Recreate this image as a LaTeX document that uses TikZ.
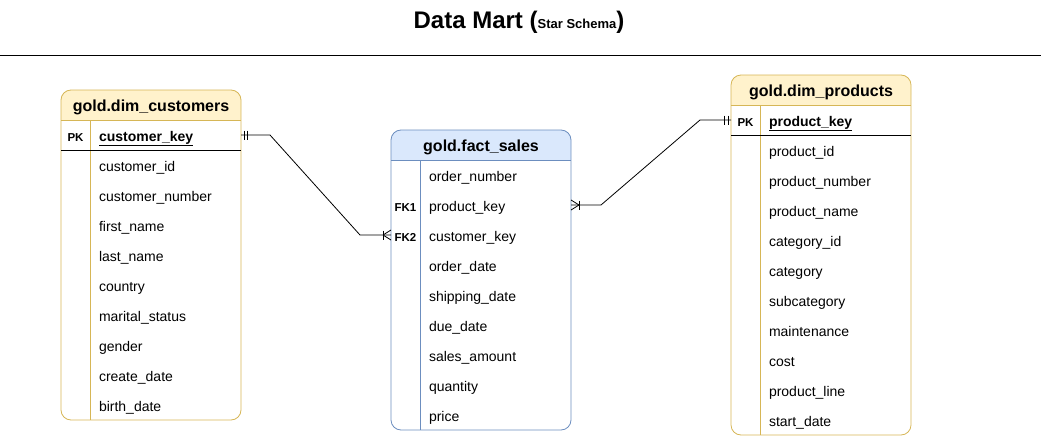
\documentclass[tikz,border=0pt]{standalone}
\usepackage{fontspec}
\setmainfont{Liberation Sans}
\usetikzlibrary{positioning, backgrounds}
\definecolor{DimFill}{HTML}{FFF2CC}
\definecolor{DimLine}{HTML}{D6B656}
\definecolor{FactFill}{HTML}{DAE8FC}
\definecolor{FactLine}{HTML}{6C8EBF}

\tikzset{
  tblhead/.style={minimum width=180pt, minimum height=30pt, inner sep=0pt, outer sep=0pt, text height=15pt, text depth=2pt, font=\fontsize{16}{18}\selectfont\bfseries},
  tblrow/.style={minimum width=151pt, minimum height=30pt, inner xsep=9pt, inner ysep=0pt, outer sep=0pt, text width=133pt, text height=13pt, text depth=1pt, align=left, font=\fontsize{14}{16}\selectfont},
  tblkey/.style={minimum width=29pt, minimum height=30pt, inner sep=0pt, outer sep=0pt, text height=13pt, text depth=0pt, font=\fontsize{11.5}{13}\selectfont\bfseries},
}

\begin{document}
\begin{tikzpicture}[x=1pt, y=-1pt, line width=0.8pt]
    \useasboundingbox (0,0) rectangle (1041,436);

    % Titulo
    \node[font=\fontsize{24}{28}\selectfont\bfseries] (title) at (519,22) {Data Mart ({\fontsize{13}{15}\selectfont Star Schema})};
    \draw (0,55) -- (1041,55);

    % Tabla gold.dim_customers
    \node[tblhead] (cust) at (151,105) {gold.dim\_customers};
    \node[tblrow, anchor=north east, font=\fontsize{14}{16}\selectfont\bfseries] (cust-0) at (cust.south east) {\underline{customer\_key}};
    \node[tblkey, left=0pt of cust-0] (cust-pk) {PK};
    \foreach \f [count=\i, evaluate=\i as \j using int(\i-1)] in {customer\_id, customer\_number, first\_name, last\_name, country, marital\_status, gender, create\_date, birth\_date}
        \node[tblrow, below=0pt of cust-\j] (cust-\i) {\f};

    % Tabla gold.fact_sales
    \node[tblhead] (fact) at (481,145) {gold.fact\_sales};
    \node[tblrow, anchor=north east] (fact-1) at (fact.south east) {order\_number};
    \foreach \f [count=\i from 2, evaluate=\i as \j using int(\i-1)] in {product\_key, customer\_key, order\_date, shipping\_date, due\_date, sales\_amount, quantity, price}
        \node[tblrow, below=0pt of fact-\j] (fact-\i) {\f};
    \node[tblkey, left=0pt of fact-2] (fact-fk1) {FK1};
    \node[tblkey, left=0pt of fact-3] (fact-fk2) {FK2};

    % Tabla gold.dim_products
    \node[tblhead] (prod) at (821,90) {gold.dim\_products};
    \node[tblrow, anchor=north east, font=\fontsize{14}{16}\selectfont\bfseries] (prod-0) at (prod.south east) {\underline{product\_key}};
    \node[tblkey, left=0pt of prod-0] (prod-pk) {PK};
    \foreach \f [count=\i, evaluate=\i as \j using int(\i-1)] in {product\_id, product\_number, product\_name, category\_id, category, subcategory, maintenance, cost, product\_line, start\_date}
        \node[tblrow, below=0pt of prod-\j] (prod-\i) {\f};

    % Cabeceras
    \begin{scope}[on background layer]
        \fill[DimFill, rounded corners=10pt] (cust.north west) rectangle (cust.south east);
        \fill[DimFill] (cust.west) rectangle (cust.south east);
        \fill[FactFill, rounded corners=10pt] (fact.north west) rectangle (fact.south east);
        \fill[FactFill] (fact.west) rectangle (fact.south east);
        \fill[DimFill, rounded corners=10pt] (prod.north west) rectangle (prod.south east);
        \fill[DimFill] (prod.west) rectangle (prod.south east);
    \end{scope}

    % Marcos y divisiones
    \draw[DimLine, rounded corners=10pt] (cust.north west) rectangle (cust-9.south east);
    \draw[DimLine] (cust.south west) -- (cust.south east);
    \draw[DimLine] (cust-0.north west) -- (cust-9.south west);
    \draw (cust-pk.south west) -- (cust-0.south east);

    \draw[FactLine, rounded corners=10pt] (fact.north west) rectangle (fact-9.south east);
    \draw[FactLine] (fact.south west) -- (fact.south east);
    \draw[FactLine] (fact-1.north west) -- (fact-9.south west);

    \draw[DimLine, rounded corners=10pt] (prod.north west) rectangle (prod-10.south east);
    \draw[DimLine] (prod.south west) -- (prod.south east);
    \draw[DimLine] (prod-0.north west) -- (prod-10.south west);
    \draw (prod-pk.south west) -- (prod-0.south east);

    % Relaciones
    \draw (cust-0.east) -- ++(29,0) -- ([xshift=-31pt]fact-fk2.west) -- (fact-fk2.west);
    \draw (fact-2.east) -- ++(30,0) -- ([xshift=-31pt]prod-pk.west) -- (prod-pk.west);

    % Cardinalidad: uno obligatorio
    \draw ([xshift=3pt]cust-0.east) ++(0,-4.5) -- ++(0,9);
    \draw ([xshift=6.5pt]cust-0.east) ++(0,-4.5) -- ++(0,9);
    \draw ([xshift=-3pt]prod-pk.west) ++(0,-4.5) -- ++(0,9);
    \draw ([xshift=-6.5pt]prod-pk.west) ++(0,-4.5) -- ++(0,9);

    % Cardinalidad: uno a muchos
    \draw ([xshift=-8pt]fact-fk2.west) ++(0,-4.5) -- ++(0,9);
    \draw ([xshift=-8pt]fact-fk2.west) -- ++(8,-5) ([xshift=-8pt]fact-fk2.west) -- ++(8,5);
    \draw ([xshift=8pt]fact-2.east) ++(0,-4.5) -- ++(0,9);
    \draw ([xshift=8pt]fact-2.east) -- ++(-8,-5) ([xshift=8pt]fact-2.east) -- ++(-8,5);
\end{tikzpicture}
\end{document}
